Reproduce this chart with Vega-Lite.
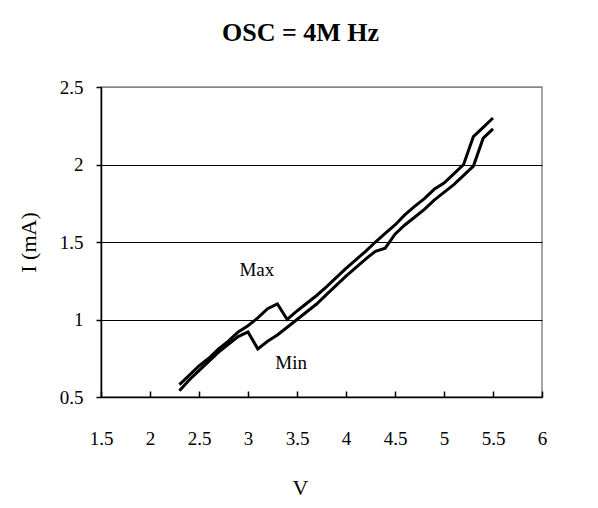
{
  "$schema": "https://vega.github.io/schema/vega-lite/v6.json",
  "autosize": "none",
  "width": 441,
  "height": 310,
  "padding": {"left": 101, "top": 87, "right": 56, "bottom": 111},
  "background": "white",
  "config": {
    "font": "Liberation Serif",
    "view": {"stroke": "#888888", "strokeWidth": 1.5}
  },
  "title": {
    "text": "OSC = 4M Hz",
    "font": "Liberation Serif",
    "fontSize": 26,
    "fontWeight": "bold",
    "color": "black",
    "anchor": "middle",
    "dx": -21,
    "offset": 32
  },
  "datasets": {
    "curves": [
      {"V": 2.3, "I": 0.58, "series": "Max"},
      {"V": 2.4, "I": 0.64, "series": "Max"},
      {"V": 2.5, "I": 0.70, "series": "Max"},
      {"V": 2.6, "I": 0.75, "series": "Max"},
      {"V": 2.7, "I": 0.81, "series": "Max"},
      {"V": 2.8, "I": 0.86, "series": "Max"},
      {"V": 2.9, "I": 0.92, "series": "Max"},
      {"V": 3.0, "I": 0.96, "series": "Max"},
      {"V": 3.1, "I": 1.01, "series": "Max"},
      {"V": 3.2, "I": 1.07, "series": "Max"},
      {"V": 3.3, "I": 1.10, "series": "Max"},
      {"V": 3.4, "I": 1.00, "series": "Max"},
      {"V": 3.5, "I": 1.055, "series": "Max"},
      {"V": 3.6, "I": 1.105, "series": "Max"},
      {"V": 3.7, "I": 1.155, "series": "Max"},
      {"V": 3.8, "I": 1.21, "series": "Max"},
      {"V": 3.9, "I": 1.27, "series": "Max"},
      {"V": 4.0, "I": 1.33, "series": "Max"},
      {"V": 4.1, "I": 1.385, "series": "Max"},
      {"V": 4.2, "I": 1.44, "series": "Max"},
      {"V": 4.3, "I": 1.50, "series": "Max"},
      {"V": 4.4, "I": 1.555, "series": "Max"},
      {"V": 4.5, "I": 1.61, "series": "Max"},
      {"V": 4.6, "I": 1.675, "series": "Max"},
      {"V": 4.7, "I": 1.73, "series": "Max"},
      {"V": 4.8, "I": 1.78, "series": "Max"},
      {"V": 4.9, "I": 1.84, "series": "Max"},
      {"V": 5.0, "I": 1.88, "series": "Max"},
      {"V": 5.1, "I": 1.94, "series": "Max"},
      {"V": 5.2, "I": 2.00, "series": "Max"},
      {"V": 5.3, "I": 2.18, "series": "Max"},
      {"V": 5.4, "I": 2.24, "series": "Max"},
      {"V": 5.5, "I": 2.30, "series": "Max"},
      {"V": 2.3, "I": 0.54, "series": "Min"},
      {"V": 2.4, "I": 0.61, "series": "Min"},
      {"V": 2.5, "I": 0.67, "series": "Min"},
      {"V": 2.6, "I": 0.73, "series": "Min"},
      {"V": 2.7, "I": 0.79, "series": "Min"},
      {"V": 2.8, "I": 0.84, "series": "Min"},
      {"V": 2.9, "I": 0.89, "series": "Min"},
      {"V": 3.0, "I": 0.92, "series": "Min"},
      {"V": 3.1, "I": 0.81, "series": "Min"},
      {"V": 3.2, "I": 0.86, "series": "Min"},
      {"V": 3.3, "I": 0.90, "series": "Min"},
      {"V": 3.4, "I": 0.95, "series": "Min"},
      {"V": 3.5, "I": 1.00, "series": "Min"},
      {"V": 3.6, "I": 1.05, "series": "Min"},
      {"V": 3.7, "I": 1.10, "series": "Min"},
      {"V": 3.8, "I": 1.16, "series": "Min"},
      {"V": 3.9, "I": 1.22, "series": "Min"},
      {"V": 4.0, "I": 1.28, "series": "Min"},
      {"V": 4.1, "I": 1.335, "series": "Min"},
      {"V": 4.2, "I": 1.39, "series": "Min"},
      {"V": 4.3, "I": 1.44, "series": "Min"},
      {"V": 4.4, "I": 1.46, "series": "Min"},
      {"V": 4.5, "I": 1.55, "series": "Min"},
      {"V": 4.6, "I": 1.61, "series": "Min"},
      {"V": 4.7, "I": 1.66, "series": "Min"},
      {"V": 4.8, "I": 1.71, "series": "Min"},
      {"V": 4.9, "I": 1.77, "series": "Min"},
      {"V": 5.0, "I": 1.82, "series": "Min"},
      {"V": 5.1, "I": 1.87, "series": "Min"},
      {"V": 5.2, "I": 1.93, "series": "Min"},
      {"V": 5.3, "I": 1.99, "series": "Min"},
      {"V": 5.4, "I": 2.17, "series": "Min"},
      {"V": 5.5, "I": 2.23, "series": "Min"}
    ],
    "labels": [
      {"V": 3.09, "I": 1.32, "label": "Max"},
      {"V": 3.44, "I": 0.72, "label": "Min"}
    ]
  },
  "resolve": {"axis": {"x": "independent"}},
  "layer": [
    {
      "data": {"name": "curves"},
      "mark": {"type": "line", "strokeWidth": 3, "strokeJoin": "miter", "clip": true},
      "encoding": {
        "x": {
          "field": "V",
          "type": "quantitative",
          "scale": {"domain": [1.5, 6], "nice": false, "zero": false},
          "axis": {
            "title": "V",
            "orient": "bottom",
            "values": [1.5, 2, 2.5, 3, 3.5, 4, 4.5, 5, 5.5, 6],
            "format": "~g",
            "grid": false,
            "domainColor": "black",
            "domainWidth": 1.5,
            "ticks": false,
            "tickSize": 0,
            "labelFont": "Liberation Serif",
            "labelFontSize": 19,
            "labelColor": "black",
            "labelBaseline": "middle",
            "labelPadding": 41,
            "labelFlush": false,
            "titleFont": "Liberation Serif",
            "titleFontSize": 22,
            "titleFontWeight": "normal",
            "titleColor": "black",
            "titleX": 199,
            "titleY": 90,
            "titleBaseline": "middle",
            "zindex": 1
          }
        },
        "y": {
          "field": "I",
          "type": "quantitative",
          "scale": {"domain": [0.5, 2.5], "nice": false, "zero": false},
          "axis": {
            "title": "I (mA)",
            "values": [0.5, 1, 1.5, 2, 2.5],
            "format": "~g",
            "grid": true,
            "gridColor": {"condition": {"test": "datum.value === 2.5", "value": "#888888"}, "value": "black"},
            "gridWidth": 1,
            "gridOpacity": 1,
            "domainColor": "black",
            "domainWidth": 1.5,
            "ticks": true,
            "tickColor": "black",
            "tickOpacity": 1,
            "tickSize": 5,
            "tickWidth": 1.5,
            "labelFont": "Liberation Serif",
            "labelFontSize": 19,
            "labelColor": "black",
            "labelPadding": 13,
            "labelFlush": false,
            "titleFont": "Liberation Serif",
            "titleFontSize": 22,
            "titleFontWeight": "normal",
            "titleColor": "black",
            "titleX": -73,
            "titleY": 155,
            "titleBaseline": "middle",
            "zindex": 1
          }
        },
        "detail": {"field": "series", "type": "nominal"},
        "color": {"value": "black"}
      }
    },
    {
      "data": {"name": "labels"},
      "mark": {"type": "text", "font": "Liberation Serif", "fontSize": 19, "color": "black", "align": "center", "baseline": "middle"},
      "encoding": {
        "x": {
          "field": "V",
          "type": "quantitative",
          "axis": {
            "orient": "top",
            "offset": -310,
            "values": [1.5, 2, 2.5, 3, 3.5, 4, 4.5, 5, 5.5, 6],
            "title": null,
            "labels": false,
            "domain": false,
            "grid": false,
            "ticks": true,
            "tickSize": 6,
            "tickWidth": 1.5,
            "tickColor": "black",
            "tickOpacity": 1,
            "zindex": 1
          }
        },
        "y": {"field": "I", "type": "quantitative"},
        "text": {"field": "label", "type": "nominal"}
      }
    }
  ]
}
